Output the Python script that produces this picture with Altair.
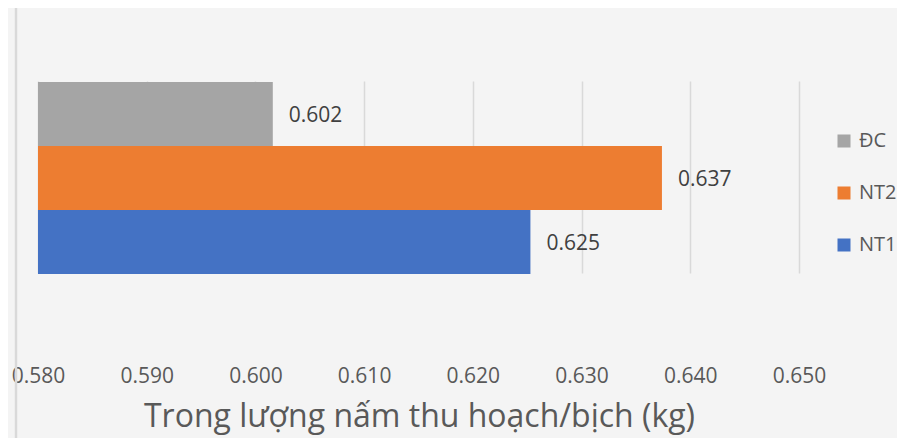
import altair as alt
import pandas as pd

categories = ["ĐC", "NT2", "NT1"]
values = [0.6016, 0.6374, 0.6253]
colors = ["#A5A5A5", "#ED7D31", "#4472C4"]
tick_values = [0.58, 0.59, 0.60, 0.61, 0.62, 0.63, 0.64, 0.65]
x_title = "Trong lượng nấm thu hoạch/bịch (kg)"

df = pd.DataFrame({"cat": categories, "value": values})

FONT = "Open Sans"

xscale = alt.Scale(domain=[0.58, 0.65884], nice=False, zero=False)
yenc = alt.Y("cat:N", sort=categories,
             scale=alt.Scale(paddingInner=0, paddingOuter=0, range=[70, 262]),
             axis=None)

base = alt.Chart(df)

bars = base.mark_bar().encode(
    x=alt.X("value:Q", scale=xscale,
            axis=alt.Axis(values=tick_values, format=".3f", grid=True,
                          title=x_title)),
    x2=alt.datum(0.58),
    y=yenc,
    color=alt.Color("cat:N",
                    scale=alt.Scale(domain=categories, range=colors),
                    legend=alt.Legend(title=None, orient="none",
                                      legendX=796, legendY=119,
                                      symbolType="square", symbolSize=169,
                                      symbolStrokeWidth=0, labelFont=FONT,
                                      labelFontSize=20, labelColor="#595959",
                                      rowPadding=32, labelOffset=5, padding=0)),
)

labels = base.mark_text(align="left", baseline="alphabetic", dx=16, dy=8,
                        font=FONT, fontSize=21, color="#404040").encode(
    x=alt.X("value:Q", scale=xscale),
    y=yenc,
    text=alt.Text("value:Q", format=".3f"),
)

border = alt.Chart(pd.DataFrame({"a": [0]})).mark_rule(
    color="#D9D9D9", strokeWidth=2.5).encode(
    x=alt.value(-22), y=alt.value(-12), y2=alt.value(430))

chart = alt.layer(border, bars, labels).properties(
    width=857, height=331,
    autosize=alt.AutoSizeParams(type="none"),
    padding={"left": 30, "top": 4, "right": 2, "bottom": 95},
    background="#F4F4F4",
).configure_view(stroke=None).configure_axis(
    gridColor="#D9D9D9", gridWidth=1.5, domain=False, ticks=False,
    labelFont=FONT, labelFontSize=21, labelColor="#595959",
    labelBaseline="alphabetic", labelPadding=39, labelFlush=False,
    labelOverlap=False,
    titleFont=FONT, titleFontSize=32, titleColor="#595959",
    titleFontWeight="normal", titleX=381, titleY=83,
    titleBaseline="alphabetic", titleAlign="center",
)

chart.save("out.html", embed_options={"renderer": "svg", "actions": False})
